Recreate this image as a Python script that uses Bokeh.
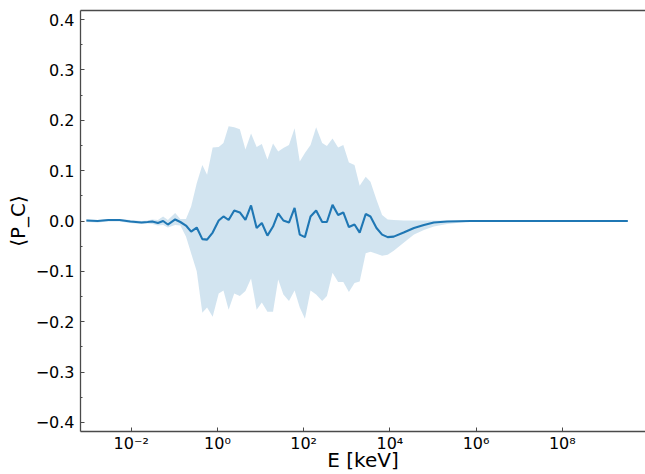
from bokeh.plotting import figure
from bokeh.models import LogAxis, FixedTicker, Range1d
from bokeh.embed import file_html
from bokeh.resources import INLINE

# ---- data ----
log10_E = [-3.04, -2.78, -2.53, -2.27, -2.02, -1.76, -1.62, -1.51, -1.38, -1.26,
           -1.15, -0.98, -0.86, -0.73, -0.61, -0.48, -0.35, -0.24, -0.11, 0.03,
           0.14, 0.26, 0.39, 0.52, 0.65, 0.78, 0.91, 1.03, 1.16, 1.29,
           1.41, 1.53, 1.66, 1.79, 1.91, 2.03, 2.16, 2.29, 2.43, 2.54,
           2.67, 2.80, 2.92, 3.05, 3.18, 3.30, 3.44, 3.55, 3.69, 3.82,
           3.95, 4.09, 4.32, 4.56, 4.79, 5.02, 5.33, 5.87, 7.03, 9.52]
pc_mean = [0.001, 0.000, 0.002, 0.002, -0.001, -0.003, -0.002, -0.001, -0.004, 0.000,
           -0.007, 0.003, -0.002, -0.009, -0.021, -0.013, -0.036, -0.037, -0.023, 0.001,
           0.009, 0.002, 0.021, 0.017, 0.002, 0.031, -0.014, -0.004, -0.029, -0.011,
           0.015, 0.001, -0.003, 0.026, -0.027, -0.032, 0.009, 0.021, -0.002, -0.002,
           0.032, 0.012, 0.017, -0.012, -0.007, -0.023, 0.014, 0.009, -0.014, -0.027,
           -0.032, -0.031, -0.023, -0.014, -0.008, -0.003, -0.001, 0.000, 0.000, 0.000]
pc_upper = [0.003, 0.002, 0.004, 0.004, 0.002, 0.000, 0.001, 0.003, 0.002, 0.009,
            0.002, 0.016, 0.004, 0.004, 0.029, 0.075, 0.111, 0.092, 0.146, 0.147,
            0.155, 0.188, 0.186, 0.182, 0.142, 0.174, 0.147, 0.153, 0.122, 0.154,
            0.138, 0.145, 0.151, 0.184, 0.118, 0.135, 0.151, 0.186, 0.155, 0.149,
            0.164, 0.146, 0.151, 0.116, 0.111, 0.070, 0.088, 0.078, 0.042, 0.012,
            0.003, 0.002, 0.001, 0.001, 0.001, 0.001, 0.001, 0.001, 0.0005, 0.0005]
pc_lower = [-0.002, -0.003, -0.001, -0.001, -0.004, -0.006, -0.005, -0.006, -0.009, -0.008,
            -0.013, -0.008, -0.009, -0.031, -0.064, -0.100, -0.182, -0.172, -0.190, -0.144,
            -0.138, -0.176, -0.144, -0.149, -0.139, -0.114, -0.176, -0.162, -0.180, -0.180,
            -0.116, -0.146, -0.159, -0.138, -0.172, -0.194, -0.138, -0.146, -0.159, -0.149,
            -0.103, -0.121, -0.121, -0.141, -0.123, -0.120, -0.064, -0.061, -0.065, -0.069,
            -0.067, -0.059, -0.043, -0.027, -0.018, -0.011, -0.006, -0.001, -0.0005, -0.0005]

x_ticks = [1e-2, 1e0, 1e2, 1e4, 1e6, 1e8]
x_tick_labels = ["10\u207b\u00b2", "10\u2070", "10\u00b2", "10\u2074", "10\u2076", "10\u2078"]
y_ticks = [-0.4, -0.3, -0.2, -0.1, 0.0, 0.1, 0.2, 0.3, 0.4]
y_tick_labels = ["\u22120.4", "\u22120.3", "\u22120.2", "\u22120.1", "0.0", "0.1", "0.2", "0.3", "0.4"]
y_minor = [-0.35, -0.25, -0.15, -0.05, 0.05, 0.15, 0.25, 0.35]
x_title = "E [keV]"
y_title = "\u27e8P_C\u27e9"

E = [10 ** v for v in log10_E]

BLUE = "#1f77b4"
SPINE = "#4a4a4a"
FONT = "DejaVu Sans"

p = figure(width=645, height=474, x_axis_type="log",
           x_range=Range1d(10 ** -3.176, 10 ** 9.93), y_range=Range1d(-0.418, 0.418),
           output_backend="svg", toolbar_location=None,
           min_border_left=80, min_border_right=0, min_border_top=10, min_border_bottom=42,
           background_fill_color="white", border_fill_color="white")
p.outline_line_color = None
p.xgrid.visible = False
p.ygrid.visible = False

p.varea(x=E, y1=pc_lower, y2=pc_upper, fill_color=BLUE, fill_alpha=0.2)
p.line(x=E, y=pc_mean, line_color=BLUE, line_width=2.1)

xa = p.xaxis[0]
xa.ticker = FixedTicker(ticks=x_ticks, minor_ticks=[])
xa.major_label_overrides = dict(zip(x_ticks, x_tick_labels))
ya = p.yaxis[0]
ya.ticker = FixedTicker(ticks=y_ticks, minor_ticks=y_minor)
ya.major_label_overrides = dict(zip(y_ticks, y_tick_labels))

for ax in (xa, ya):
    ax.axis_line_color = SPINE
    ax.axis_line_width = 1.3
    ax.major_tick_line_color = SPINE
    ax.minor_tick_line_color = SPINE
    ax.major_tick_in = 4
    ax.major_tick_out = 0
    ax.minor_tick_in = 2
    ax.minor_tick_out = 0
    ax.major_label_text_font = FONT
    ax.major_label_text_font_size = "16px"
    ax.major_label_text_color = "black"
    ax.axis_label_text_font = FONT
    ax.axis_label_text_font_size = "20px"
    ax.axis_label_text_font_style = "normal"
    ax.axis_label_text_color = "black"
xa.axis_label = x_title
ya.axis_label = y_title
xa.major_label_standoff = 2
xa.axis_label_standoff = -8
ya.major_label_standoff = 6
ya.axis_label_standoff = 3

top = LogAxis(ticker=FixedTicker(ticks=[], minor_ticks=[]),
              axis_line_color=SPINE, axis_line_width=1.3,
              major_tick_line_color=None, minor_tick_line_color=None,
              major_label_text_font_size="0px", major_label_standoff=0,
              major_tick_out=0, major_tick_in=0, minor_tick_out=0, minor_tick_in=0)
p.add_layout(top, "above")

open("out.html", "w").write(file_html(p, INLINE))
